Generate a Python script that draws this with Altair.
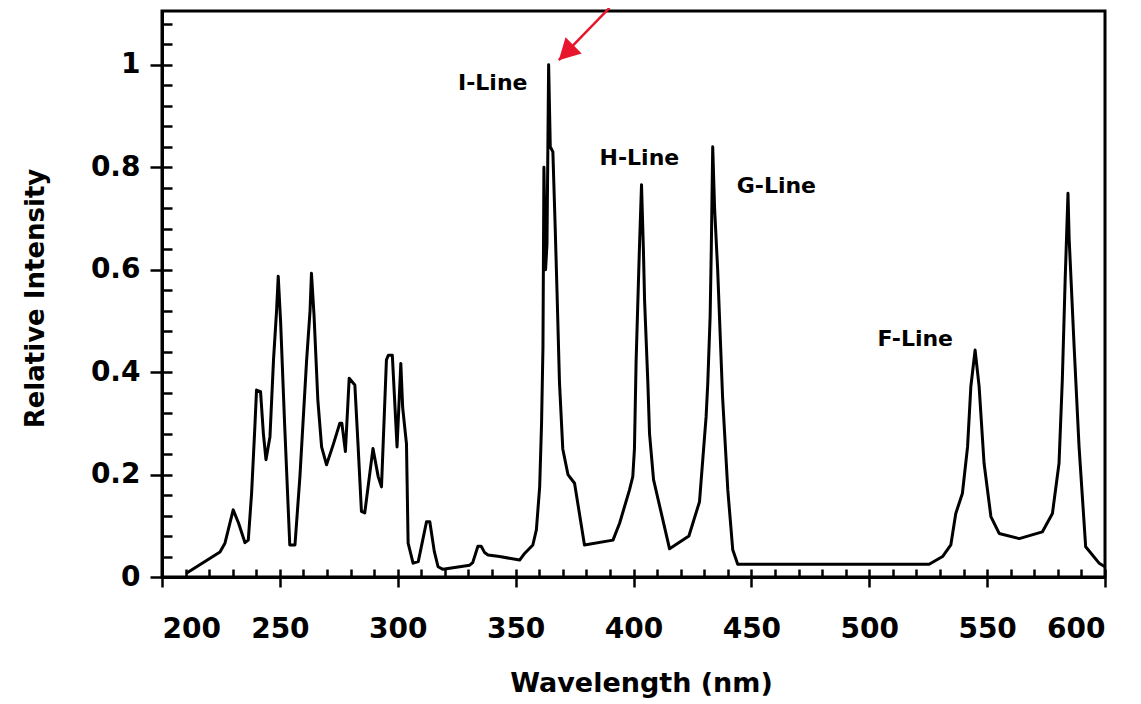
import altair as alt
import pandas as pd

# ---- spectrum ----
wavelength = [210.5, 224.6, 226.7, 230.2, 232.5, 235.2, 236.6, 238.0, 239.4, 240.1, 241.8, 243.0,
              244.1, 245.8, 247.3, 248.6, 249.3, 250.3, 252.0, 254.2, 256.4, 258.5, 261.3, 262.8,
              263.4, 264.5, 266.1, 267.7, 269.8, 272.6, 275.4, 276.3, 277.8, 279.4, 281.8, 283.2,
              284.6, 286.0, 289.5, 291.7, 293.1, 295.2, 296.0, 297.7, 299.7, 301.3, 302.1, 303.7,
              304.4, 306.5, 308.7, 310.5, 312.2, 313.6, 315.5, 317.1, 319.2, 330.5, 331.8, 334.0,
              335.4, 336.8, 338.3, 343.2, 351.7, 353.8, 357.3, 358.8, 360.2, 361.0, 361.6, 362.0,
              362.7, 363.3, 364.0, 364.7, 365.8, 366.8, 367.6, 368.6, 370.0, 372.2, 375.0, 379.2,
              391.3, 394.1, 398.3, 399.7, 400.4, 401.1, 402.5, 403.4, 404.2, 404.7, 406.1, 406.8,
              408.5, 415.3, 423.5, 428.0, 430.8, 431.5, 432.5, 433.0, 433.6, 434.4, 435.7, 437.8,
              440.0, 442.1, 444.2, 525.4, 531.1, 534.6, 536.7, 539.5, 541.7, 543.1, 544.9, 546.6,
              548.7, 551.6, 555.1, 563.6, 573.4, 577.7, 580.5, 581.9, 583.1, 584.3, 584.8, 586.9,
              589.0, 591.8, 597.5, 600.0]
intensity = [0.008, 0.049, 0.066, 0.131, 0.105, 0.067, 0.072, 0.163, 0.294, 0.365, 0.362, 0.28,
             0.229, 0.274, 0.424, 0.52, 0.587, 0.50, 0.30, 0.0625, 0.0625, 0.196, 0.42, 0.52,
             0.593, 0.51, 0.346, 0.254, 0.219, 0.258, 0.30, 0.30, 0.245, 0.388, 0.375, 0.254,
             0.128, 0.125, 0.251, 0.196, 0.176, 0.424, 0.433, 0.433, 0.254, 0.417, 0.33, 0.26,
             0.066, 0.027, 0.03, 0.07, 0.108, 0.108, 0.05, 0.02, 0.015, 0.023, 0.028, 0.06,
             0.06, 0.048, 0.043, 0.04, 0.033, 0.046, 0.0625, 0.092, 0.176, 0.30, 0.45, 0.80,
             0.60, 0.65, 1.0, 0.84, 0.83, 0.68, 0.55, 0.38, 0.25, 0.20, 0.183, 0.0625,
             0.072, 0.105, 0.17, 0.196, 0.25, 0.42, 0.64, 0.766, 0.64, 0.54, 0.378, 0.28,
             0.19, 0.055, 0.08, 0.147, 0.313, 0.378, 0.508, 0.64, 0.84, 0.72, 0.60, 0.35,
             0.17, 0.053, 0.025, 0.025, 0.04, 0.0625, 0.124, 0.163, 0.254, 0.372, 0.443, 0.372,
             0.222, 0.118, 0.085, 0.075, 0.088, 0.124, 0.222, 0.385, 0.58, 0.749, 0.66, 0.45,
             0.254, 0.059, 0.027, 0.02]

# ---- axis ticks ----
x_major = [200, 250, 300, 350, 400, 450, 500, 550, 600]
x_all = [200, 210, 220, 230, 240, 250, 260, 270, 280, 290, 300, 310, 320, 330, 340, 350,
         360, 370, 380, 390, 400, 410, 420, 430, 440, 450, 460, 470, 480, 490, 500, 510,
         520, 530, 540, 550, 560, 570, 580, 590, 600]
y_major = [0, 0.2, 0.4, 0.6, 0.8, 1.0]
y_all = [0, 0.04, 0.08, 0.12, 0.16, 0.2, 0.24, 0.28, 0.32, 0.36, 0.4, 0.44, 0.48, 0.52, 0.56,
         0.6, 0.64, 0.68, 0.72, 0.76, 0.8, 0.84, 0.88, 0.92, 0.96, 1.0, 1.04, 1.08]

# ---- annotations ----
line_names = ["I-Line", "H-Line", "G-Line", "F-Line"]
line_x = [340.3, 402.5, 460.6, 519.5]
line_y = [0.965, 0.818, 0.764, 0.465]

arrow_x = [389.8]
arrow_y = [1.111]
arrow_tip_x = [368.3]
arrow_tip_y = [1.009]

W, H = 943, 566
FONT = "DejaVu Sans"

spec = pd.DataFrame({"wl": wavelength, "val": intensity})
ann = pd.DataFrame({"label": line_names, "wl": line_x, "val": line_y})
arr = pd.DataFrame({"wl": arrow_x, "val": arrow_y, "wl2": arrow_tip_x, "val2": arrow_tip_y})

xscale = alt.Scale(domain=[200, 600], nice=False, zero=False)
yscale = alt.Scale(domain=[0, 1.105], nice=False, zero=False)

x_axis = alt.Axis(
    values=x_major, title="Wavelength (nm)", tickSize=10, labelPadding=28,
    titleX=479, titleY=106, titleBaseline="middle", titleAlign="center",
    titleFontSize=27)
y_axis = alt.Axis(
    values=y_major, format="~g", title="Relative Intensity", tickSize=12, labelPadding=10,
    titleX=-127, titleY=287, titleAngle=270, titleBaseline="middle", titleAlign="center",
    titleFontSize=26)

X = alt.X("wl:Q", scale=xscale, axis=x_axis)
Y = alt.Y("val:Q", scale=yscale, axis=y_axis)

line = alt.Chart(spec).mark_line(color="black", strokeWidth=3, strokeJoin="round").encode(x=X, y=Y)

labels = alt.Chart(ann).mark_text(font=FONT, fontWeight="bold", fontSize=22, color="black",
                                  align="center", baseline="middle").encode(
    x=X, y=Y, text="label:N")

arrow_line = alt.Chart(arr).mark_rule(color="#e8162c", strokeWidth=2.5).encode(
    x=X, y=Y, x2="wl2:Q", y2="val2:Q")
arrow_head = alt.Chart(arr).mark_point(
    shape="M0,0 L-0.95,1.75 L0.95,1.75 Z", filled=True, color="#e8162c", opacity=1,
    size=576, angle=225, strokeWidth=0).encode(
    x=alt.X("wl2:Q", scale=xscale, axis=x_axis), y=alt.Y("val2:Q", scale=yscale, axis=y_axis))

main = alt.layer(line, labels, arrow_line, arrow_head)

# inner ticks: a second pair of axes moved onto the plot edges, ticks pointing inward
inner = alt.Chart(spec).mark_line(opacity=0).encode(
    x=alt.X("wl:Q", scale=xscale, axis=alt.Axis(
        orient="top", offset=-H, values=x_all, labels=False, domain=False, title="",
        tickSize=8, tickWidth=2.5, tickColor="black")),
    y=alt.Y("val:Q", scale=yscale, axis=alt.Axis(
        orient="right", offset=-W, values=y_all, labels=False, domain=False, title="",
        tickSize=10, tickWidth=2.5, tickColor="black")),
)

chart = alt.layer(main, inner).resolve_axis(x="independent", y="independent").properties(
    width=W, height=H,
    background="white",
    autosize=alt.AutoSizeParams(type="none"),
    padding={"left": 154, "top": 3, "right": 28, "bottom": 124},
).configure_view(
    stroke="black", strokeWidth=3
).configure_axis(
    grid=False, domainColor="black", domainWidth=3, tickColor="black", tickWidth=2.5,
    labelFont=FONT, labelFontWeight="bold", labelFontSize=28, labelColor="black",
    titleFont=FONT, titleFontWeight="bold", titleColor="black",
)

chart.save("out.html", embed_options={"renderer": "svg", "actions": False})
